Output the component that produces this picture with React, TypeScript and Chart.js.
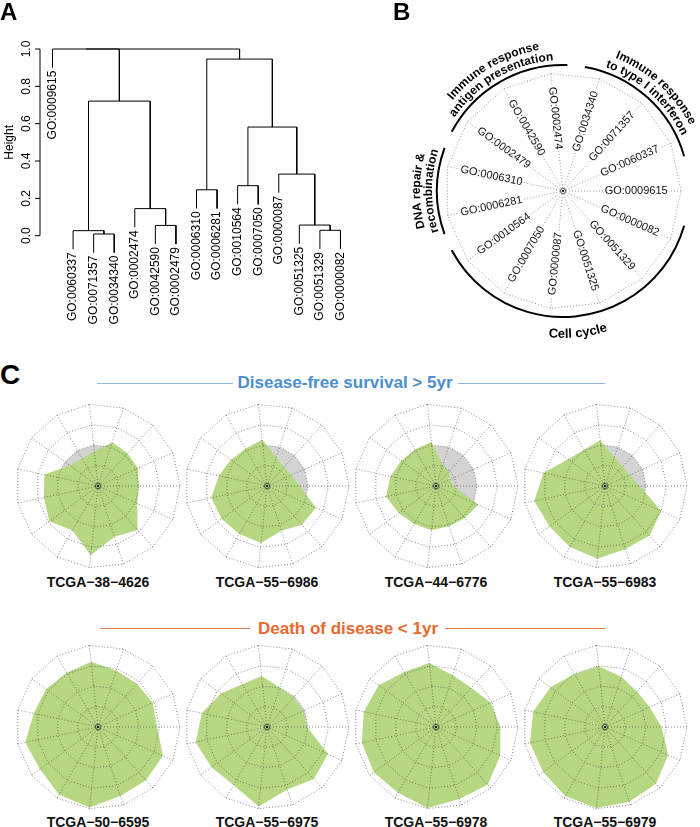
import React, { useEffect, useRef } from "react";
import { Chart, registerables } from "chart.js";

Chart.register(...registerables);

const FONT = '"Liberation Sans", Arial, Helvetica, sans-serif';

// ---------- Panel A: dendrogram ----------
const leafLabels = [
  "GO:0009615", "GO:0060337", "GO:0071357", "GO:0034340", "GO:0002474",
  "GO:0042590", "GO:0002479", "GO:0006310", "GO:0006281", "GO:0010564",
  "GO:0007050", "GO:0000087", "GO:0051325", "GO:0051329", "GO:0000082",
];
// merges (R hclust style): negative = leaf position (1-based), positive = earlier merge (1-based)
const mergeLeft = [-3, -2, -6, -5, -14, -13, -8, -10, -12, 8, 2, 7, -1, 13];
const mergeRight = [-4, 1, -7, 3, -15, 5, -9, -11, 6, 9, 4, 10, 11, 12];
const mergeHeight = [0.009, 0.027, 0.055, 0.145, 0.029, 0.057, 0.246, 0.268, 0.33, 0.582, 0.721, 0.946, 1.0, 1.0];
const heightTicks = [0, 0.2, 0.4, 0.6, 0.8, 1.0];
const heightTickLabels = ["0.0", "0.2", "0.4", "0.6", "0.8", "1.0"];
const leafHang = 0.1;

// ---------- Panel B / C: spokes ----------
const goSpokes = [
  "GO:0002474", "GO:0034340", "GO:0071357", "GO:0060337", "GO:0009615",
  "GO:0000082", "GO:0051329", "GO:0051325", "GO:0000087", "GO:0007050",
  "GO:0010564", "GO:0006281", "GO:0006310", "GO:0002479", "GO:0042590",
];
const spokeStartAngle = -6;
const groupLines = [
  ["Immune response", "antigen presentation"],
  ["Immune response", "to type I interferon"],
  ["DNA repair &", "recombination"],
  ["Cell cycle"],
];
const groupFirstSpoke = [13, 1, 11, 5];
const groupLastSpoke = [15, 3, 12, 10];

// ---------- Panel C: patient profiles ----------
const survivorTitle = "Disease-free survival > 5yr";
const deathTitle = "Death of disease < 1yr";
const patients = [
  "TCGA\u221238\u22124626", "TCGA\u221255\u22126986", "TCGA\u221244\u22126776", "TCGA\u221255\u22126983",
  "TCGA\u221250\u22126595", "TCGA\u221255\u22126975", "TCGA\u221255\u22126978", "TCGA\u221255\u22126979",
];
const referenceProfile = [2, 2, 2, 2, 2, 2, 2, 2, 2, 2, 2, 2, 2, 2, 2];
const p38_4626 = [1.7, 2.25, 2.15, 2.13, 1.98, 2.1, 2.88, 2.6, 3.4, 2.5, 2.93, 2.7, 2.67, 1.7, 1.55];
const p55_6986 = [2.27, 1.46, 1.25, 1.3, 1.6, 2.61, 2.55, 2.3, 2.79, 2.7, 2.73, 2.78, 2.4, 2.18, 2.1];
const p44_6776 = [2.16, 1.1, 0.95, 0.75, 0.85, 2.26, 2.1, 2.07, 2.17, 2.14, 2.24, 2.5, 2.27, 2.1, 2.05];
const p55_6983 = [2.24, 1.48, 1.28, 1.32, 1.7, 3.0, 3.25, 3.23, 3.57, 3.43, 3.35, 3.53, 3.07, 2.23, 2.04];
const p50_6595 = [3.2, 2.9, 2.84, 2.92, 2.88, 3.46, 3.5, 3.54, 3.95, 3.8, 3.5, 3.63, 3.2, 3.14, 3.05];
const p55_6975 = [2.5, 2.03, 1.93, 1.95, 1.95, 3.25, 3.42, 3.2, 3.9, 3.27, 3.35, 3.56, 3.25, 2.78, 2.41];
const p55_6978 = [3.14, 2.65, 2.57, 2.92, 3.14, 3.43, 3.78, 3.69, 3.97, 3.7, 3.75, 3.7, 3.6, 3.46, 3.1];
const p55_6979 = [2.98, 2.58, 2.33, 2.38, 2.76, 3.37, 3.72, 3.83, 3.97, 3.88, 3.73, 3.74, 3.58, 3.29, 2.98];
const patientValues = [p38_4626, p55_6986, p44_6776, p55_6983, p50_6595, p55_6975, p55_6978, p55_6979];

const GREEN = "#b6d882";
const GREY = "#d3d3d3";

function ChartCanvas(props: { left: number; top: number; width: number; height: number; makeConfig: () => any }) {
  const ref = useRef<HTMLCanvasElement>(null);
  useEffect(() => {
    const chart = new Chart(ref.current as HTMLCanvasElement, props.makeConfig());
    return () => chart.destroy();
  }, []);
  return (
    <canvas
      ref={ref}
      width={props.width}
      height={props.height}
      style={{ position: "absolute", left: props.left, top: props.top, width: props.width, height: props.height }}
    />
  );
}

function dendrogramConfig() {
  const nodeX: number[] = [];
  const leafBottom: number[] = new Array(leafLabels.length).fill(0);
  const xOf = (id: number) => (id < 0 ? -id : nodeX[id - 1]);
  const datasets = mergeHeight.map((h, k) => {
    const l = mergeLeft[k];
    const r = mergeRight[k];
    const xl = xOf(l);
    const xr = xOf(r);
    const yl = l < 0 ? h - leafHang : mergeHeight[l - 1];
    const yr = r < 0 ? h - leafHang : mergeHeight[r - 1];
    if (l < 0) leafBottom[-l - 1] = yl;
    if (r < 0) leafBottom[-r - 1] = yr;
    nodeX.push((xl + xr) / 2);
    return {
      data: [{ x: xl, y: yl }, { x: xl, y: h }, { x: xr, y: h }, { x: xr, y: yr }],
      showLine: true,
      borderColor: "#000",
      borderWidth: 1,
      pointRadius: 0,
      fill: false,
      clip: false,
    };
  });
  const plugin = {
    id: "dendroAxis",
    afterDraw(chart: any) {
      const ctx = chart.ctx;
      const xs = chart.scales.x;
      const ys = chart.scales.y;
      const ax = xs.left - 1;
      ctx.save();
      ctx.strokeStyle = "#000";
      ctx.lineWidth = 1;
      ctx.beginPath();
      ctx.moveTo(ax, ys.getPixelForValue(0));
      ctx.lineTo(ax, ys.getPixelForValue(1));
      heightTicks.forEach((t) => {
        const py = ys.getPixelForValue(t);
        ctx.moveTo(ax, py);
        ctx.lineTo(ax - 5, py);
      });
      ctx.stroke();
      ctx.fillStyle = "#000";
      ctx.font = `12px ${FONT}`;
      ctx.textAlign = "center";
      ctx.textBaseline = "middle";
      heightTicks.forEach((t, i) => {
        ctx.save();
        ctx.translate(27, ys.getPixelForValue(t));
        ctx.rotate(-Math.PI / 2);
        ctx.fillText(heightTickLabels[i], 0, 0);
        ctx.restore();
      });
      ctx.save();
      ctx.translate(10, (ys.getPixelForValue(0) + ys.getPixelForValue(1)) / 2);
      ctx.rotate(-Math.PI / 2);
      ctx.fillText("Height", 0, 0);
      ctx.restore();
      ctx.textAlign = "right";
      leafLabels.forEach((lab, i) => {
        ctx.save();
        ctx.translate(xs.getPixelForValue(i + 1), ys.getPixelForValue(leafBottom[i]) + 3);
        ctx.rotate(-Math.PI / 2);
        ctx.fillText(lab, 0, 0);
        ctx.restore();
      });
      ctx.restore();
    },
  };
  return {
    type: "scatter",
    data: { datasets },
    options: {
      animation: false,
      responsive: false,
      layout: { padding: { left: 41, right: 8, top: 49, bottom: 94.3 } },
      plugins: { legend: { display: false }, tooltip: { enabled: false } },
      scales: {
        x: { type: "linear", display: false, min: 0.44, max: 15.56 },
        y: { type: "linear", display: false, min: 0, max: 1 },
      },
    },
    plugins: [plugin],
  };
}

function arcText(ctx: CanvasRenderingContext2D, text: string, cx: number, cy: number, r: number, center: number, outward: boolean) {
  const total = ctx.measureText(text).width;
  const dir = outward ? 1 : -1;
  let acc = -total / 2;
  for (const ch of text) {
    const w = ctx.measureText(ch).width;
    const a = center + (dir * (acc + w / 2)) / r;
    ctx.save();
    ctx.translate(cx + r * Math.sin(a), cy - r * Math.cos(a));
    ctx.rotate(outward ? a : a - Math.PI);
    ctx.textAlign = "center";
    ctx.textBaseline = "alphabetic";
    ctx.fillText(ch, 0, 0);
    ctx.restore();
    acc += w;
  }
}

function drawCenterMark(ctx: CanvasRenderingContext2D, x: number, y: number) {
  ctx.save();
  ctx.strokeStyle = "#333";
  ctx.lineWidth = 0.8;
  ctx.beginPath();
  ctx.arc(x, y, 2.6, 0, Math.PI * 2);
  ctx.stroke();
  ctx.fillStyle = "#000";
  ctx.beginPath();
  ctx.arc(x, y, 1, 0, Math.PI * 2);
  ctx.fill();
  ctx.restore();
}

function spokeConfig() {
  const plugin = {
    id: "spokeLabels",
    afterDraw(chart: any) {
      const s = chart.scales.r;
      const ctx = chart.ctx as CanvasRenderingContext2D;
      const R = s.drawingArea;
      const cx = s.xCenter;
      const cy = s.yCenter;
      ctx.save();
      ctx.font = `11px ${FONT}`;
      goSpokes.forEach((lab, i) => {
        const a = s.getIndexAngle(i);
        const p = s.getPointPositionForValue(i, 0.62);
        const w = ctx.measureText(lab).width;
        ctx.save();
        ctx.translate(p.x, p.y);
        ctx.rotate(Math.sin(a) > 0.001 ? a - Math.PI / 2 : a + Math.PI / 2);
        ctx.fillStyle = "#fff";
        ctx.fillRect(-w / 2 - 1.5, -5, w + 3, 10);
        ctx.fillStyle = "#111";
        ctx.textAlign = "center";
        ctx.textBaseline = "middle";
        ctx.fillText(lab, 0, 0);
        ctx.restore();
      });
      drawCenterMark(ctx, cx, cy);
      const step = (s.getIndexAngle(1) - s.getIndexAngle(0) + Math.PI * 2) % (Math.PI * 2);
      const base = s.getIndexAngle(0);
      const pad = (8 * Math.PI) / 180;
      const arcR = R * 1.068;
      groupLines.forEach((lines, g) => {
        const a0 = base + groupFirstSpoke[g] * step - pad;
        const a1 = base + groupLastSpoke[g] * step + pad;
        ctx.strokeStyle = "#000";
        ctx.lineWidth = 2;
        ctx.beginPath();
        ctx.arc(cx, cy, arcR, a0 - Math.PI / 2, a1 - Math.PI / 2);
        ctx.stroke();
        const mid = (a0 + a1) / 2;
        const bottom = Math.cos(mid) < -0.5;
        ctx.fillStyle = "#000";
        if (bottom) {
          ctx.font = `bold 13px ${FONT}`;
          arcText(ctx, lines[0], cx, cy, R * 1.245, mid, false);
        } else {
          ctx.font = `bold 12px ${FONT}`;
          arcText(ctx, lines[0], cx, cy, R * 1.212, mid, true);
          arcText(ctx, lines[1], cx, cy, R * 1.11, mid, true);
        }
      });
      ctx.restore();
    },
  };
  return {
    type: "radar",
    data: {
      labels: goSpokes,
      datasets: [{ data: goSpokes.map(() => 0), borderWidth: 0, borderColor: "transparent", pointRadius: 0, fill: false }],
    },
    options: {
      animation: false,
      responsive: false,
      layout: { padding: { left: 95, right: 19, top: 73, bottom: 36 } },
      plugins: { legend: { display: false }, tooltip: { enabled: false } },
      scales: {
        r: {
          min: 0,
          max: 1,
          startAngle: spokeStartAngle,
          ticks: { display: false, stepSize: 1 },
          pointLabels: { display: false },
          grid: { color: "#9a9a9a", lineWidth: 1 },
          border: { dash: [1, 2] },
          angleLines: { color: "#9a9a9a", lineWidth: 1, borderDash: [1, 2] },
        },
      },
    },
    plugins: [plugin],
  };
}

function patientConfig(values: number[]) {
  const plugin = {
    id: "centerMark",
    afterDraw(chart: any) {
      const s = chart.scales.r;
      drawCenterMark(chart.ctx, s.xCenter, s.yCenter);
    },
  };
  return {
    type: "radar",
    data: {
      labels: goSpokes,
      datasets: [
        { data: values, backgroundColor: GREEN, borderColor: "transparent", borderWidth: 0, pointRadius: 0, fill: true },
        { data: referenceProfile, backgroundColor: GREY, borderColor: "transparent", borderWidth: 0, pointRadius: 0, fill: true },
      ],
    },
    options: {
      animation: false,
      responsive: false,
      layout: { padding: 2 },
      plugins: { legend: { display: false }, tooltip: { enabled: false } },
      scales: {
        r: {
          min: 0,
          max: 4,
          startAngle: spokeStartAngle,
          ticks: { display: false, stepSize: 1 },
          pointLabels: { display: false },
          grid: { color: "rgba(40,40,40,0.55)", lineWidth: 1, z: 1 },
          border: { dash: [1, 2] },
          angleLines: { color: "rgba(40,40,40,0.55)", lineWidth: 1, borderDash: [1, 2] },
        },
      },
    },
    plugins: [plugin],
  };
}

const radarCentersX = [98, 267, 436, 605];
const radarCentersY = [486, 727];
const labelY = [582.3, 821.7];

function CenteredText(props: { x: number; y: number; size: number; color: string; text: string }) {
  return (
    <div
      style={{
        position: "absolute",
        left: props.x,
        top: props.y,
        transform: "translate(-50%, -50%)",
        fontFamily: FONT,
        fontWeight: "bold",
        fontSize: props.size,
        lineHeight: "1",
        color: props.color,
        whiteSpace: "nowrap",
      }}
    >
      {props.text}
    </div>
  );
}

function HLine(props: { x1: number; x2: number; y: number; color: string }) {
  return (
    <div
      style={{
        position: "absolute",
        left: props.x1,
        top: props.y - 0.75,
        width: props.x2 - props.x1,
        height: 0,
        borderTop: `1.5px solid ${props.color}`,
      }}
    />
  );
}

function Letter(props: { x: number; y: number; size: number; text: string }) {
  return (
    <div
      style={{
        position: "absolute",
        left: props.x,
        top: props.y,
        fontFamily: FONT,
        fontWeight: "bold",
        fontSize: props.size,
        lineHeight: "1",
        color: "#000",
      }}
    >
      {props.text}
    </div>
  );
}

export default function App() {
  return (
    <div style={{ position: "absolute", left: 0, top: 0, width: 700, height: 827, background: "#fff", overflow: "hidden" }}>
      <ChartCanvas left={0} top={0} width={360} height={330} makeConfig={dendrogramConfig} />
      <ChartCanvas left={350} top={0} width={350} height={345} makeConfig={spokeConfig} />
      {patients.map((p, k) => {
        const cx = radarCentersX[k % 4];
        const cy = radarCentersY[Math.floor(k / 4)];
        return (
          <ChartCanvas key={p} left={cx - 84} top={cy - 84} width={168} height={168} makeConfig={() => patientConfig(patientValues[k])} />
        );
      })}
      {patients.map((p, k) => (
        <CenteredText key={"l" + p} x={radarCentersX[k % 4]} y={labelY[Math.floor(k / 4)]} size={14} color="#111" text={p} />
      ))}
      <Letter x={0} y={0} size={24} text="A" />
      <Letter x={393} y={0} size={24} text="B" />
      <Letter x={0} y={361} size={28} text="C" />
      <HLine x1={97} x2={233} y={383.5} color="#8fb5df" />
      <HLine x1={458} x2={605} y={383.5} color="#8fb5df" />
      <CenteredText x={345} y={382.3} size={17} color="#4a8fcf" text={survivorTitle} />
      <HLine x1={100} x2={250} y={629} color="#e97b4b" />
      <HLine x1={445} x2={605} y={629} color="#e97b4b" />
      <CenteredText x={348} y={627.7} size={17} color="#e8692d" text={deathTitle} />
    </div>
  );
}
